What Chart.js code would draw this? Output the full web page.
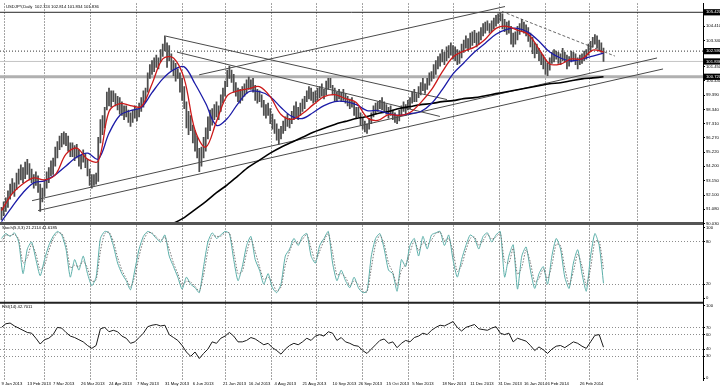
<!DOCTYPE html>
<html>
<head>
<meta charset="utf-8">
<script src="https://cdn.jsdelivr.net/npm/chart.js@4.4.1/dist/chart.umd.min.js"></script>
<style>
  html, body { margin: 0; padding: 0; background: #fff; }
  canvas { display: block; }
</style>
</head>
<body>
<canvas id="chart" width="720" height="386"></canvas>
<script>
// daily bars, one per trading day (index 0 = first visible bar)
const lows = [
  90.3, 90.6, 90.9, 91.2, 91.8, 92.2, 92.0, 92.5, 92.9, 93.2,
  93.0, 93.3, 93.6, 93.2, 93.0, 92.6, 92.8, 92.3, 90.9, 91.6,
  92.0, 92.6, 93.0, 93.5, 93.6, 94.2, 94.8, 95.4, 95.6, 95.8,
  95.7, 95.3, 94.9, 94.9, 94.6, 94.8, 94.2, 94.0, 94.5, 94.1,
  93.5, 92.8, 92.6, 92.8, 92.9, 93.1, 95.9, 96.5, 97.0, 98.3,
  98.6, 98.5, 98.9, 98.6, 98.3, 98.0, 97.9, 97.6, 97.8, 97.4,
  97.1, 97.4, 97.7, 97.5, 97.8, 98.2, 98.5, 98.9, 99.6, 100.6,
  100.9, 101.1, 101.4, 101.3, 101.8, 102.2, 102.6, 101.4, 101.9, 101.2,
  100.8, 100.4, 100.6, 99.6, 99.0, 98.4, 97.0, 96.5, 96.8, 95.9,
  95.3, 94.8, 93.8, 94.2, 94.8, 95.3, 96.2, 96.8, 97.2, 97.6,
  97.8, 97.6, 98.2, 98.8, 99.3, 100.0, 100.6, 100.3, 99.6, 99.3,
  98.9, 98.8, 99.0, 99.3, 99.5, 99.8, 99.8, 99.6, 99.0, 98.8,
  98.9, 98.5, 97.9, 97.7, 97.9, 97.3, 96.9, 96.6, 96.1, 95.8,
  96.2, 96.6, 96.8, 97.1, 97.0, 97.3, 97.6, 97.8, 97.6, 97.9,
  98.2, 98.4, 98.9, 99.1, 99.0, 98.8, 98.9, 99.0, 99.2, 99.3,
  99.1, 99.4, 99.8, 99.9, 99.4, 98.9, 98.9, 99.1, 98.9, 99.0,
  98.8, 98.6, 98.4, 98.5, 97.9, 97.7, 97.8, 97.2, 96.9, 96.7,
  96.6, 96.9, 97.3, 97.8, 98.0, 98.2, 98.4, 98.3, 98.1, 98.0,
  97.7, 97.9, 97.6, 97.4, 97.3, 97.5, 97.9, 98.2, 97.9, 98.3,
  98.4, 98.8, 98.9, 98.9, 99.2, 99.4, 99.7, 99.5, 99.8, 100.1,
  100.4, 100.6, 100.9, 101.3, 101.5, 101.8, 101.6, 101.9, 102.1, 102.3,
  102.0, 101.9, 101.6, 101.7, 102.1, 102.5, 102.8, 102.6, 102.8, 103.0,
  103.2, 102.9, 103.1, 103.4, 103.7, 103.9, 104.1, 103.9, 104.0, 104.2,
  104.4, 104.6, 104.8, 104.2, 104.0, 103.8, 103.9, 103.1, 102.9, 103.1,
  103.4, 103.8, 104.0, 103.9, 103.7, 103.3, 102.9, 102.4, 102.1, 102.4,
  101.9, 101.6, 101.3, 100.9, 100.8, 101.2, 101.7, 101.8, 102.0, 101.7,
  101.6, 101.9, 101.8, 101.3, 101.5, 101.8, 101.9, 101.6, 101.3, 101.6,
  101.7, 101.9, 102.0, 102.3, 102.6, 102.9, 103.1, 102.8, 102.6, 102.5, 101.834
];
const highs = [
  91.2, 91.6, 91.9, 92.4, 92.9, 93.3, 93.0, 93.7, 94.0, 94.3,
  94.1, 94.5, 94.7, 94.4, 94.0, 93.6, 93.8, 93.5, 92.9, 92.6,
  93.2, 93.8, 94.1, 94.6, 94.8, 95.6, 96.0, 96.4, 96.6, 96.7,
  96.6, 96.4, 95.9, 95.9, 95.7, 95.8, 95.4, 95.0, 95.4, 95.1,
  94.7, 94.0, 93.6, 93.6, 93.7, 96.3, 97.6, 97.9, 98.5, 99.6,
  99.9, 99.7, 99.7, 99.5, 99.3, 99.2, 98.9, 98.6, 98.6, 98.3,
  98.1, 98.3, 98.6, 98.4, 98.8, 99.2, 99.7, 99.9, 101.0, 101.6,
  101.9, 102.1, 102.3, 102.1, 102.7, 103.1, 103.7, 103.2, 103.0, 102.4,
  101.9, 101.7, 101.3, 101.0, 100.6, 100.0, 98.9, 98.2, 97.9, 97.2,
  96.8, 96.4, 95.5, 95.6, 96.3, 97.0, 97.8, 98.3, 98.4, 98.7,
  98.9, 98.6, 99.4, 99.9, 100.4, 101.2, 101.5, 101.2, 100.9, 100.3,
  99.9, 99.8, 100.0, 100.2, 100.5, 100.7, 100.5, 100.6, 100.1, 99.8,
  99.7, 99.4, 99.0, 98.7, 98.8, 98.4, 98.0, 97.6, 97.3, 96.9,
  97.1, 97.5, 97.8, 98.0, 97.7, 98.2, 98.6, 98.9, 98.5, 98.8,
  99.1, 99.3, 99.7, 100.0, 99.9, 99.6, 99.7, 99.9, 100.0, 100.2,
  99.8, 100.4, 100.6, 100.6, 100.1, 99.9, 99.6, 99.8, 99.6, 99.8,
  99.5, 99.3, 99.1, 99.2, 98.9, 98.5, 98.5, 98.1, 97.7, 97.5,
  97.3, 97.7, 98.1, 98.6, 98.8, 98.9, 99.0, 99.2, 98.9, 98.7,
  98.5, 98.6, 98.3, 98.1, 97.9, 98.3, 98.6, 98.9, 98.7, 99.0,
  99.2, 99.6, 99.8, 99.5, 100.0, 100.3, 100.6, 100.2, 100.6, 101.0,
  101.1, 101.6, 101.9, 102.2, 102.4, 102.7, 102.5, 102.9, 103.0, 103.2,
  103.0, 102.9, 102.7, 102.6, 103.1, 103.4, 103.7, 103.5, 103.9, 104.0,
  104.1, 103.9, 104.0, 104.3, 104.6, 104.7, 104.8, 104.6, 104.8, 105.0,
  105.2, 105.3, 105.4, 105.3, 104.9, 104.7, 104.8, 104.4, 103.9, 104.0,
  104.4, 104.6, 104.9, 104.7, 104.5, 104.3, 103.9, 103.6, 103.2, 103.1,
  102.8, 102.5, 102.3, 102.0, 101.7, 102.1, 102.5, 102.7, 102.6, 102.5,
  102.4, 102.8, 102.5, 102.3, 102.2, 102.6, 102.5, 102.4, 102.1, 102.3,
  102.4, 102.6, 102.7, 103.1, 103.3, 103.6, 103.8, 103.7, 103.4, 103.2, 102.814
];

// moving averages, read every 5 bars
const maStep = 5;
const maRed = [
  90.97, 92.20, 92.92, 93.35, 93.21, 93.57, 95.08, 95.52, 94.72, 94.58,
  98.19, 98.77, 98.62, 98.55, 100.2, 102.02, 102.09, 100.57, 96.82, 95.59,
  97.47, 99.34, 99.70, 99.85, 100.0, 99.27, 97.97, 97.61, 98.04, 98.69,
  99.27, 99.42, 99.13, 98.84, 97.76, 97.54, 97.97, 97.90, 98.12, 98.84,
  99.78, 101.08, 102.16, 102.59, 102.88, 103.46, 104.25, 104.40, 104.11, 103.82,
  102.74, 101.65, 101.65, 102.02, 102.02, 102.67, 102.52
];
const maBlue = [
  90.17, 91.26, 92.27, 92.99, 93.13, 93.57, 94.22, 94.87, 95.16, 94.72,
  96.60, 97.90, 98.26, 98.48, 99.56, 100.57, 101.22, 101.44, 100.21, 98.77,
  97.18, 97.68, 98.77, 99.63, 99.63, 99.27, 98.48, 97.83, 97.68, 98.12,
  98.62, 98.91, 98.91, 98.69, 98.26, 98.26, 98.04, 97.90, 98.04, 98.19,
  98.77, 99.78, 100.93, 101.73, 102.52, 103.17, 103.82, 104.18, 104.25, 103.96,
  103.31, 102.52, 102.09, 101.87, 102.02, 102.23, 102.45
];
const maBlackStart = 75;
const maBlack = [
  89.62, 90.03, 90.46, 91.04, 91.62, 92.27, 92.85, 93.50, 94.15, 94.65,
  95.16, 95.59, 95.95, 96.31, 96.67, 96.96, 97.25, 97.47, 97.68, 97.83,
  98.04, 98.19, 98.41, 98.55, 98.69, 98.77, 98.91, 98.98, 99.13, 99.20,
  99.34, 99.49, 99.63, 99.78, 99.92, 100.07, 100.21, 100.28, 100.43, 100.57,
  100.64, 100.72
];

// oscillators, read every 2 bars
const oscStep = 2;
const stochMain = [
  85, 92, 88, 93, 80, 35, 70, 80, 55, 32,
  55, 75, 88, 95, 90, 70, 30, 55, 40, 60,
  35, 18, 30, 85, 95, 93, 75, 50, 35, 25,
  12, 40, 70, 88, 95, 92, 85, 80, 90, 60,
  45, 30, 13, 30, 20, 15, 8, 45, 80, 93,
  85, 90, 95, 92, 55, 25, 45, 75, 88, 55,
  40, 20, 35, 15, 8, 20, 60, 70, 85, 75,
  88, 92, 60, 50, 75, 85, 95, 50, 25, 40,
  25, 15, 30, 15, 8, 10, 60, 85, 92, 70,
  40, 35, 10, 55, 45, 75, 85, 60, 88, 70,
  90, 93, 95, 75, 90, 55, 30, 55, 75, 90,
  85, 70, 88, 93, 80, 90, 95, 30, 60, 76,
  13, 60, 73, 40, 14, 35, 45, 20, 60, 85,
  70, 30, 14, 50, 69, 35, 10, 60, 92, 75,
  21.2114
];
const stochSignal = [
  80, 90, 89, 91, 84, 50, 58, 77, 63, 40,
  47, 68, 84, 93, 92, 77, 43, 47, 45, 53,
  43, 24, 26, 67, 92, 94, 81, 58, 40, 28,
  16, 31, 60, 82, 93, 93, 87, 82, 87, 70,
  50, 35, 19, 24, 23, 17, 10, 33, 68, 89,
  88, 88, 93, 93, 67, 35, 38, 65, 84, 66,
  45, 27, 30, 22, 10, 16, 47, 67, 80, 78,
  84, 91, 71, 53, 67, 82, 92, 65, 33, 35,
  30, 18, 25, 20, 10, 9, 43, 77, 90, 77,
  50, 37, 18, 40, 48, 65, 82, 68, 79, 76,
  83, 92, 94, 82, 85, 67, 38, 47, 68, 85,
  87, 75, 82, 91, 84, 87, 93, 52, 50, 71,
  34, 44, 69, 51, 23, 28, 42, 28, 47, 77,
  75, 43, 19, 38, 63, 46, 18, 43, 81, 81,
  41.6185
];
const rsiValues = [
  70, 75, 76, 72, 69, 66, 63, 62, 55, 47,
  53, 55, 60, 70, 69, 63, 58, 56, 53, 50,
  45, 41, 45, 68, 70, 64, 66, 64, 58, 55,
  48, 50, 56, 62, 71, 73, 74, 72, 73, 60,
  56, 52, 45, 36, 30, 36, 27, 34, 40, 50,
  48, 55, 58, 63, 58, 50, 50, 52, 56, 54,
  50, 46, 48, 42, 38, 33, 40, 45, 48, 46,
  50, 55, 52, 58, 60, 58, 64, 62, 52, 56,
  50, 48, 45, 44, 38, 34, 40, 46, 52, 54,
  48, 50, 42, 48, 52, 50, 56, 58, 62, 60,
  66, 70, 73, 72, 75, 78, 70, 65, 70, 72,
  74, 68, 67, 66, 69, 71, 62, 60, 62, 50,
  55, 53, 51, 45, 38, 43, 39, 34, 40, 44,
  45, 42, 46, 50, 48, 44, 41, 50, 59, 60,
  42.7011
];

// drawn objects: [bar0, price0, bar1, price1]
const trendLines = [
  [91.9, 100.86, 234.2, 105.84],
  [14.2, 91.69, 304.9, 102.09],
  [17.0, 90.97, 307.7, 101.29],
  [76.5, 103.68, 207.2, 99.06],
  [81.6, 102.52, 203.9, 97.83]
];
const dashedLine = [232.8, 105.48, 285.3, 102.23];
const levelHigh = 105.42;
const levelDotted = 102.59;
const bidPrice = 101.836;
const levelSupport = 100.72;

// axis ticks
const priceTicks = [90.03, 91.08, 92.10, 93.15, 94.20, 95.22, 96.27, 97.31, 98.34, 99.39, 100.44, 101.45, 103.34, 104.41];
const boxedTicks = [levelHigh, levelDotted, bidPrice, levelSupport];
const stochTicks = [0, 20, 80, 100];
const stochLevels = [20, 80];
const rsiTicks = [0, 30, 40, 60, 70, 100];
const rsiLevels = [30, 40, 60, 70];
const dateBars = [0, 12, 24, 37, 50, 63, 76, 89, 103, 115, 127, 140, 154, 166, 179, 191, 205, 218, 231, 243, 254, 269];
const dateLabels = ['9 Jan 2013', '13 Feb 2013', '7 Mar 2013', '26 Mar 2013', '24 Apr 2013', '7 May 2013',
  '31 May 2013', '6 Jun 2013', '21 Jun 2013', '16 Jul 2013', '4 Aug 2013', '21 Aug 2013', '10 Sep 2013',
  '26 Sep 2013', '15 Oct 2013', '5 Nov 2013', '18 Nov 2013', '11 Dec 2013', '31 Dec 2013', '16 Jan 2014',
  '6 Feb 2014', '26 Feb 2014'];
const gridBars = [1.2, 20.2, 41.2, 62.6, 84.4, 104.4, 125.8, 146.7, 168.1, 189.5, 210, 231.4, 252.8, 273.7, 295.6];

const mainTitle = 'USDJPY,Daily  102.724 102.814 101.834 101.836';
const stochTitle = 'Stoch(5,3,3) 21.2114 41.6185';
const rsiTitle = 'RSI(14) 42.7011';

// scale ranges (window heights 222 / 80 / 78 px)
const xMin = -0.7;
const xMax = 326.28;
const priceMin = 90.03;
const priceMax = 106.059;
const stochMin = -6.3;
const stochMax = 106.3;
const rsiMin = -2.7;
const rsiMax = 104.1;

const tickFont = { family: '"Liberation Sans", Arial, sans-serif', size: 4.2 };

const sampled = (values, start, step) => values.map((v, k) => ({ x: start + k * step, y: v }));
const segment = (t) => [{ x: t[0], y: t[1] }, { x: t[2], y: t[3] }];
const flat = (v) => [{ x: xMin, y: v }, { x: xMax, y: v }];

function lineSet(data, color, extra) {
    return Object.assign({
        type: 'line',
        data,
        borderColor: color,
        borderWidth: 1,
        pointRadius: 0,
        tension: 0,
        yAxisID: 'y',
        order: 5
    }, extra || {});
}

const datasets = [
    lineSet(flat(levelHigh), '#262626', { order: 20 }),
    lineSet(flat(levelDotted), '#333333', { borderDash: [1, 2], order: 20 }),
    lineSet(flat(bidPrice), '#c4c4c4', { order: 20 }),
    lineSet(flat(levelSupport), '#b0b0b0', { borderWidth: 3, order: 20 }),
    // window separators
    lineSet(flat(priceMin), '#555555', { borderWidth: 3, clip: false, order: 0 }),
    lineSet(flat(stochMin), '#222222', { borderWidth: 2, clip: false, yAxisID: 'ys', order: 0 }),
    ...trendLines.map((t) => lineSet(segment(t), '#4a4a4a', { order: 15 })),
    lineSet(segment(dashedLine), '#666666', { borderDash: [3, 2], order: 15 }),
    {
        type: 'bar',
        data: lows.map((lo, i) => ({ x: i, y: [lo, highs[i]] })),
        backgroundColor: '#4d4d4d',
        borderWidth: 0,
        barThickness: 1.1,
        yAxisID: 'y',
        order: 10
    },
    lineSet(sampled(maBlack, maBlackStart, maStep), '#000000', { borderWidth: 1.6, tension: 0.3, order: 4 }),
    lineSet(sampled(maBlue, 0, maStep), '#1c1ca8', { borderWidth: 1.3, tension: 0.35, order: 3 }),
    lineSet(sampled(maRed, 0, maStep), '#cc1a1a', { borderWidth: 1.3, tension: 0.35, order: 2 }),
    lineSet(sampled(stochSignal, 0, oscStep), '#7a7a7a', { borderDash: [1.5, 1.5], yAxisID: 'ys', tension: 0.2 }),
    lineSet(sampled(stochMain, 0, oscStep), '#5aaea8', { yAxisID: 'ys', tension: 0.2 }),
    lineSet(sampled(rsiValues, 0, oscStep), '#1a1a1a', { yAxisID: 'yr' })
];

function rightAxis(min, max, weight, tickValues, levels, extra) {
    return Object.assign({
        type: 'linear',
        position: 'right',
        stack: 'windows',
        stackWeight: weight,
        min,
        max,
        afterBuildTicks(scale) {
            scale.ticks = tickValues.slice().sort((a, b) => a - b).map((v) => ({ value: v }));
        },
        afterFit(scale) {
            scale.width = 17;
        },
        ticks: {
            autoSkip: false,
            padding: 1,
            color: '#000',
            font: tickFont,
            callback: (v) => String(v)
        },
        grid: {
            drawOnChartArea: true,
            drawTicks: true,
            tickLength: 2,
            tickColor: '#000',
            color(ctx) {
                return ctx.tick && levels.includes(ctx.tick.value) ? '#8c8c8c' : 'rgba(0,0,0,0)';
            }
        },
        border: { display: true, color: '#000', width: 1, dash: [1, 2] }
    }, extra || {});
}

const panelTitles = {
    id: 'panelTitles',
    afterDraw(chart) {
        const { ctx, scales } = chart;
        ctx.save();
        ctx.font = `${tickFont.size}px ${tickFont.family}`;
        ctx.fillStyle = '#000';
        ctx.textBaseline = 'middle';
        ctx.fillText(mainTitle, 6, scales.y.top + 3.5);
        ctx.fillText(stochTitle, 2, scales.ys.top + 4.5);
        ctx.fillText(rsiTitle, 2, scales.yr.top + 4);
        ctx.restore();
    }
};

new Chart(document.getElementById('chart'), {
    type: 'line',
    data: { datasets },
    plugins: [panelTitles],
    options: {
        responsive: false,
        animation: false,
        layout: { padding: 0, autoPadding: false },
        plugins: {
            legend: { display: false },
            tooltip: { enabled: false }
        },
        scales: {
            x: {
                type: 'linear',
                position: 'bottom',
                offset: false,
                min: xMin,
                max: xMax,
                afterBuildTicks(scale) {
                    scale.ticks = dateBars.map((v) => ({ value: v }));
                },
                afterFit(scale) {
                    scale.height = 6;
                },
                ticks: {
                    autoSkip: false,
                    maxRotation: 0,
                    align: 'start',
                    padding: 1.2,
                    color: '#000',
                    font: tickFont,
                    callback: (v, i) => dateLabels[i]
                },
                grid: { display: false, drawTicks: false, tickLength: 0 },
                border: { display: false }
            },
            xg: {
                type: 'linear',
                position: 'bottom',
                offset: false,
                min: xMin,
                max: xMax,
                afterBuildTicks(scale) {
                    scale.ticks = gridBars.map((v) => ({ value: v }));
                },
                afterFit(scale) {
                    scale.height = 0;
                },
                ticks: { display: false },
                grid: { color: '#4a4a4a', lineWidth: 1, drawTicks: false, tickLength: 0 },
                border: { display: false, dash: [1, 2] }
            },
            y: rightAxis(priceMin, priceMax, 222, priceTicks.concat(boxedTicks), [], {
                ticks: {
                    autoSkip: false,
                    padding: 1,
                    font: tickFont,
                    callback: (v) => Number(v).toFixed(3),
                    color: (ctx) => (ctx.tick && boxedTicks.includes(ctx.tick.value) ? '#fff' : '#000'),
                    showLabelBackdrop: (ctx) => !!(ctx.tick && boxedTicks.includes(ctx.tick.value)),
                    backdropColor: '#000',
                    backdropPadding: { top: 0.6, bottom: 0.6, left: 2, right: 3 }
                }
            }),
            ys: rightAxis(stochMin, stochMax, 80, stochTicks, stochLevels),
            yr: rightAxis(rsiMin, rsiMax, 78, rsiTicks, rsiLevels)
        }
    }
});
</script>
</body>
</html>
